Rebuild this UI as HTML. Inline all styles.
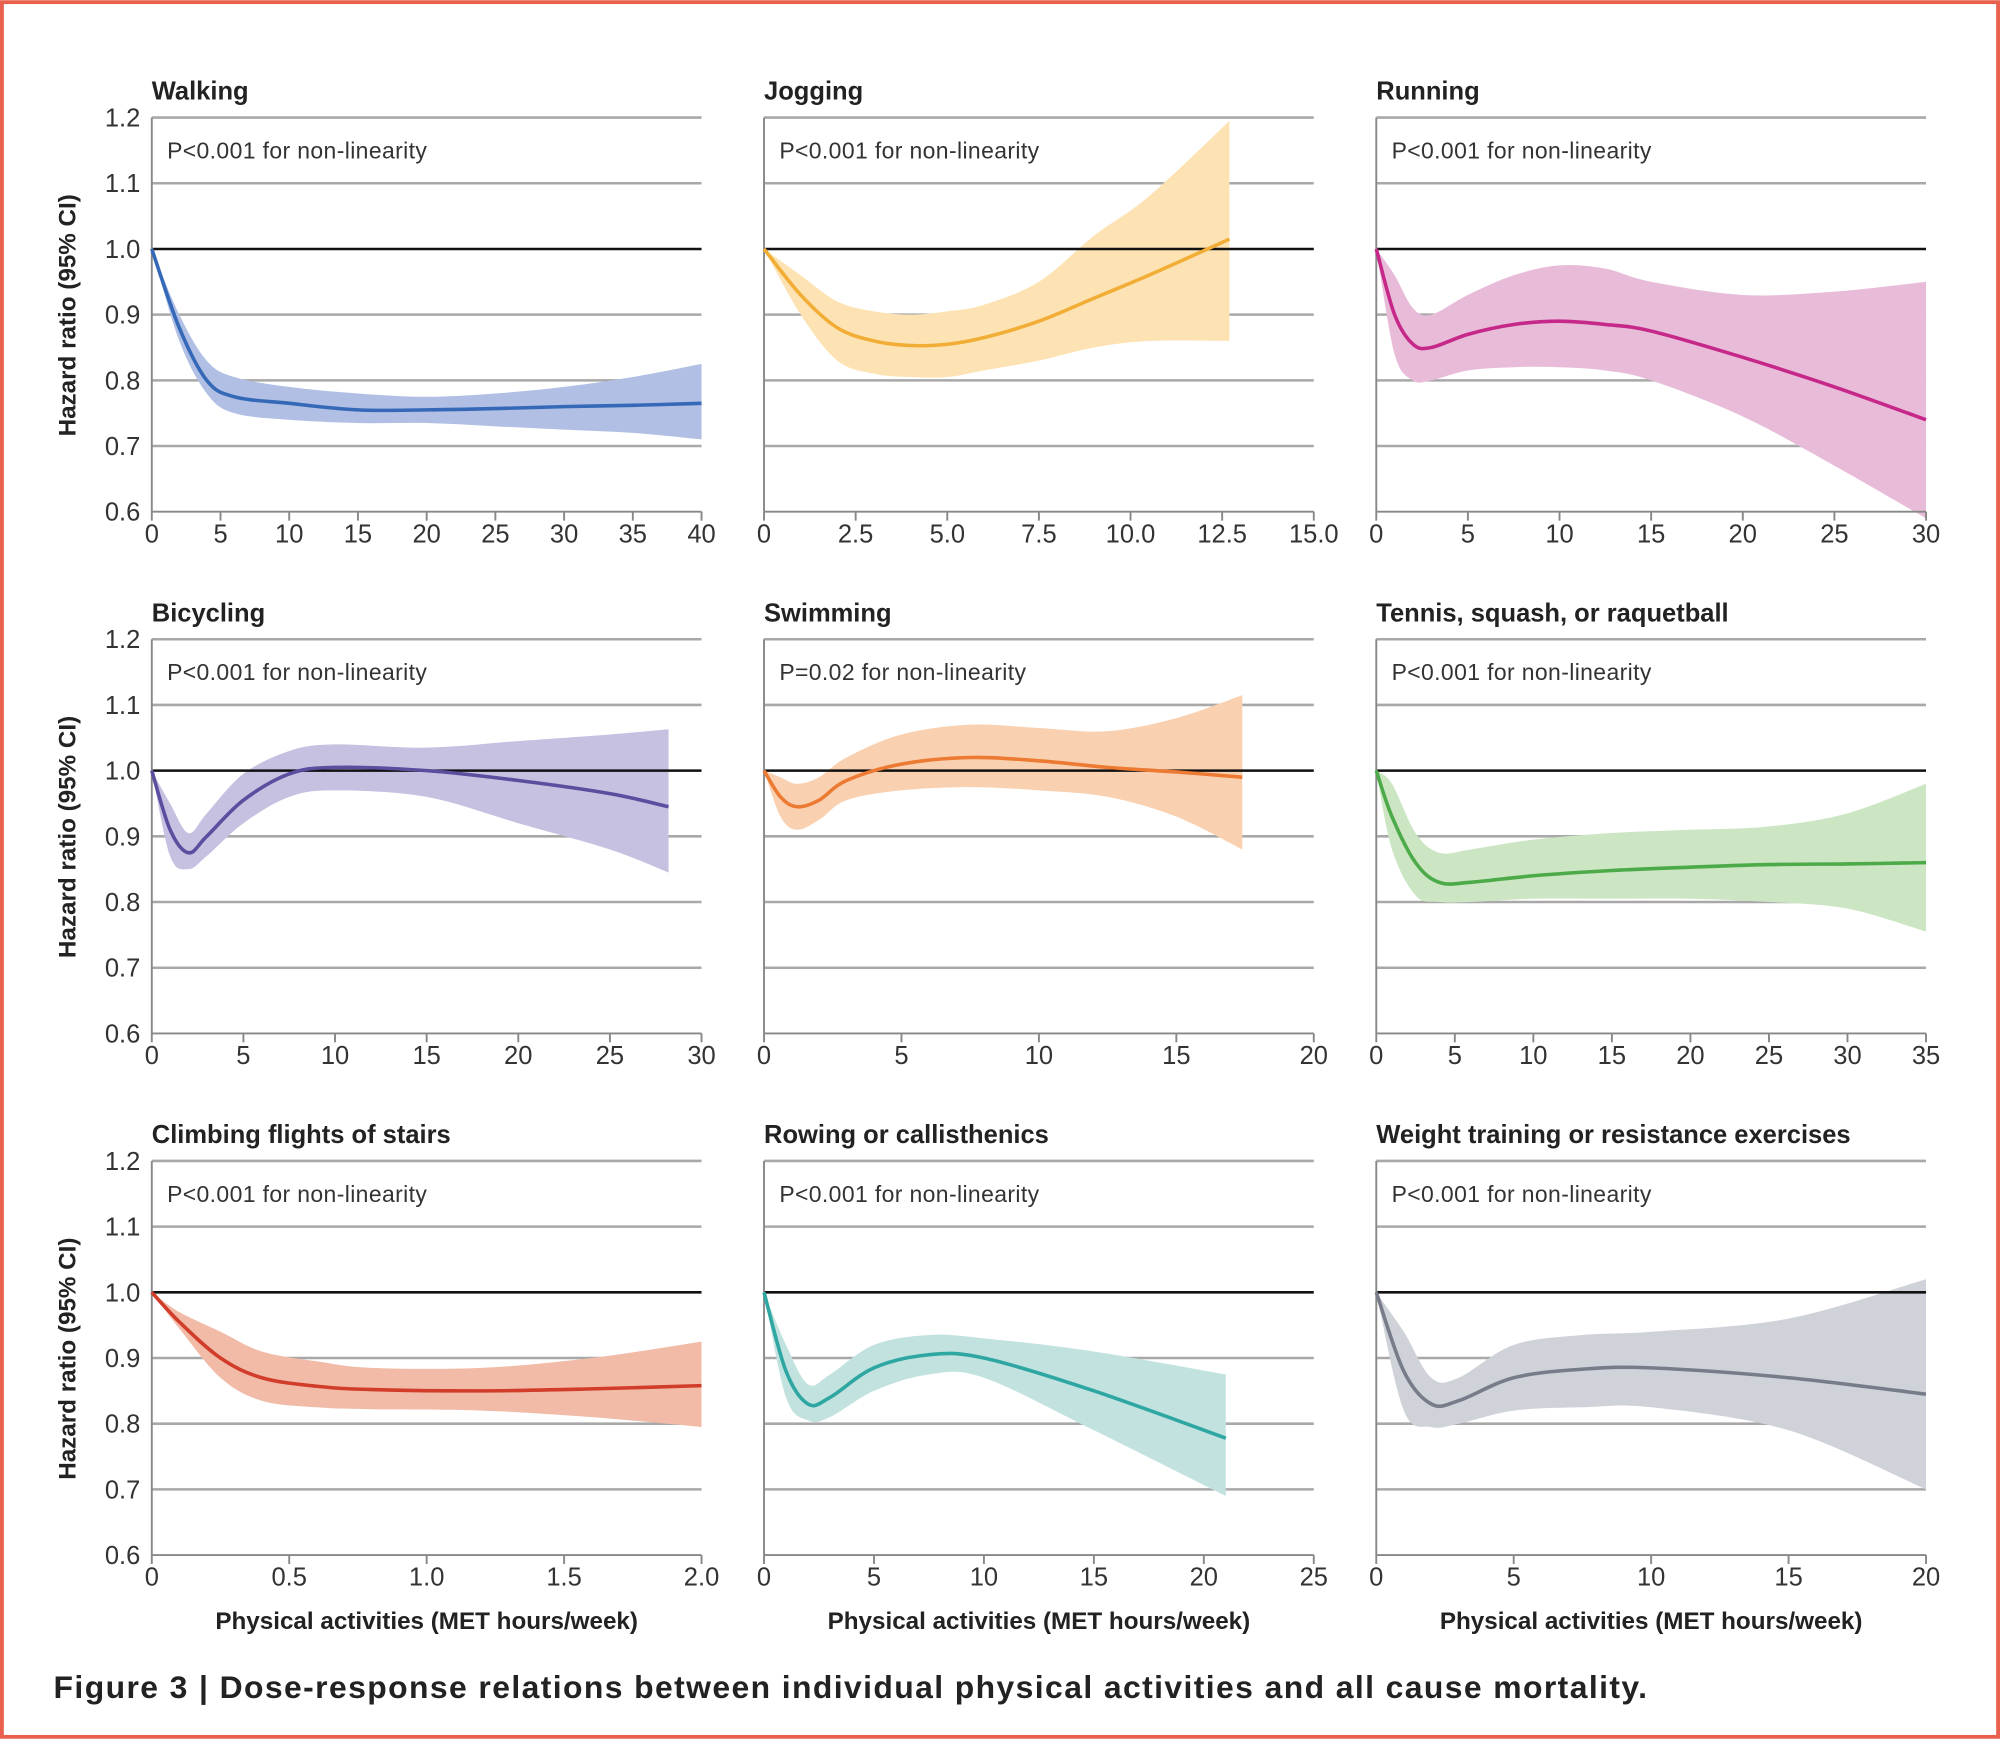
<!DOCTYPE html>
<html><head><meta charset="utf-8"><style>
html,body{margin:0;padding:0;background:#fff;}
svg{display:block;font-family:"Liberation Sans",sans-serif;}
.t{font-size:20px;font-weight:bold;fill:#222;}
.a{font-size:18px;fill:#333;letter-spacing:0.3px;}
.yl{font-size:20px;fill:#333;text-anchor:end;}
.xl{font-size:20px;fill:#333;text-anchor:middle;}
.ax{font-size:19px;font-weight:bold;fill:#222;text-anchor:middle;}
.cap{font-size:25px;fill:#222;letter-spacing:1.1px;font-weight:bold;}
</style></head><body>
<svg id="s" width="2000" height="1739" viewBox="0 0 1568 1363" xmlns="http://www.w3.org/2000/svg">
<rect x="0" y="0" width="1568" height="1363" fill="#fff"/>
<rect x="1.5" y="1.5" width="1565" height="1360" fill="none" stroke="#e9604c" stroke-width="3"/>
<g id="p0" transform="translate(119,92)"></g>
<g id="p1" transform="translate(599,92)"></g>
<g id="p2" transform="translate(1079,92)"></g>
<g id="p3" transform="translate(119,501)"></g>
<g id="p4" transform="translate(599,501)"></g>
<g id="p5" transform="translate(1079,501)"></g>
<g id="p6" transform="translate(119,910)"></g>
<g id="p7" transform="translate(599,910)"></g>
<g id="p8" transform="translate(1079,910)"></g>

<g transform="translate(119,92)">
<text class="t" x="0" y="-14">Walking</text><text class="a" x="12" y="32">P&lt;0.001 for non-linearity</text>
<text class="yl" x="-9" y="7">1.2</text><text class="yl" x="-9" y="58.5">1.1</text><text class="yl" x="-9" y="110">1.0</text><text class="yl" x="-9" y="161.5">0.9</text><text class="yl" x="-9" y="213">0.8</text><text class="yl" x="-9" y="264.5">0.7</text><text class="yl" x="-9" y="316">0.6</text>
<text class="ax" transform="translate(-60,155) rotate(-90)">Hazard ratio (95% CI)</text>
<text class="xl" x="0" y="333">0</text><text class="xl" x="53.9" y="333">5</text><text class="xl" x="107.75" y="333">10</text><text class="xl" x="161.6" y="333">15</text><text class="xl" x="215.5" y="333">20</text><text class="xl" x="269.4" y="333">25</text><text class="xl" x="323.25" y="333">30</text><text class="xl" x="377.1" y="333">35</text><text class="xl" x="431" y="333">40</text>
</g>
<g transform="translate(599,92)">
<text class="t" x="0" y="-14">Jogging</text><text class="a" x="12" y="32">P&lt;0.001 for non-linearity</text>
<text class="xl" x="0" y="333">0</text><text class="xl" x="71.8" y="333">2.5</text><text class="xl" x="143.7" y="333">5.0</text><text class="xl" x="215.5" y="333">7.5</text><text class="xl" x="287.3" y="333">10.0</text><text class="xl" x="359.2" y="333">12.5</text><text class="xl" x="431" y="333">15.0</text>
</g>
<g transform="translate(1079,92)">
<text class="t" x="0" y="-14">Running</text><text class="a" x="12" y="32">P&lt;0.001 for non-linearity</text>
<text class="xl" x="0" y="333">0</text><text class="xl" x="71.8" y="333">5</text><text class="xl" x="143.7" y="333">10</text><text class="xl" x="215.5" y="333">15</text><text class="xl" x="287.3" y="333">20</text><text class="xl" x="359.2" y="333">25</text><text class="xl" x="431" y="333">30</text>
</g>
<g transform="translate(119,501)">
<text class="t" x="0" y="-14">Bicycling</text><text class="a" x="12" y="32">P&lt;0.001 for non-linearity</text>
<text class="yl" x="-9" y="7">1.2</text><text class="yl" x="-9" y="58.5">1.1</text><text class="yl" x="-9" y="110">1.0</text><text class="yl" x="-9" y="161.5">0.9</text><text class="yl" x="-9" y="213">0.8</text><text class="yl" x="-9" y="264.5">0.7</text><text class="yl" x="-9" y="316">0.6</text>
<text class="ax" transform="translate(-60,155) rotate(-90)">Hazard ratio (95% CI)</text>
<text class="xl" x="0" y="333">0</text><text class="xl" x="71.8" y="333">5</text><text class="xl" x="143.7" y="333">10</text><text class="xl" x="215.5" y="333">15</text><text class="xl" x="287.3" y="333">20</text><text class="xl" x="359.2" y="333">25</text><text class="xl" x="431" y="333">30</text>
</g>
<g transform="translate(599,501)">
<text class="t" x="0" y="-14">Swimming</text><text class="a" x="12" y="32">P=0.02 for non-linearity</text>
<text class="xl" x="0" y="333">0</text><text class="xl" x="107.75" y="333">5</text><text class="xl" x="215.5" y="333">10</text><text class="xl" x="323.25" y="333">15</text><text class="xl" x="431" y="333">20</text>
</g>
<g transform="translate(1079,501)">
<text class="t" x="0" y="-14">Tennis, squash, or raquetball</text><text class="a" x="12" y="32">P&lt;0.001 for non-linearity</text>
<text class="xl" x="0" y="333">0</text><text class="xl" x="61.6" y="333">5</text><text class="xl" x="123.1" y="333">10</text><text class="xl" x="184.7" y="333">15</text><text class="xl" x="246.3" y="333">20</text><text class="xl" x="307.9" y="333">25</text><text class="xl" x="369.4" y="333">30</text><text class="xl" x="431" y="333">35</text>
</g>
<g transform="translate(119,910)">
<text class="t" x="0" y="-14">Climbing flights of stairs</text><text class="a" x="12" y="32">P&lt;0.001 for non-linearity</text>
<text class="yl" x="-9" y="7">1.2</text><text class="yl" x="-9" y="58.5">1.1</text><text class="yl" x="-9" y="110">1.0</text><text class="yl" x="-9" y="161.5">0.9</text><text class="yl" x="-9" y="213">0.8</text><text class="yl" x="-9" y="264.5">0.7</text><text class="yl" x="-9" y="316">0.6</text>
<text class="ax" transform="translate(-60,155) rotate(-90)">Hazard ratio (95% CI)</text>
<text class="xl" x="0" y="333">0</text><text class="xl" x="107.75" y="333">0.5</text><text class="xl" x="215.5" y="333">1.0</text><text class="xl" x="323.25" y="333">1.5</text><text class="xl" x="431" y="333">2.0</text>
<text class="ax" x="215.5" y="367">Physical activities (MET hours/week)</text>
</g>
<g transform="translate(599,910)">
<text class="t" x="0" y="-14">Rowing or callisthenics</text><text class="a" x="12" y="32">P&lt;0.001 for non-linearity</text>
<text class="xl" x="0" y="333">0</text><text class="xl" x="86.2" y="333">5</text><text class="xl" x="172.4" y="333">10</text><text class="xl" x="258.6" y="333">15</text><text class="xl" x="344.8" y="333">20</text><text class="xl" x="431" y="333">25</text>
<text class="ax" x="215.5" y="367">Physical activities (MET hours/week)</text>
</g>
<g transform="translate(1079,910)">
<text class="t" x="0" y="-14">Weight training or resistance exercises</text><text class="a" x="12" y="32">P&lt;0.001 for non-linearity</text>
<text class="xl" x="0" y="333">0</text><text class="xl" x="107.75" y="333">5</text><text class="xl" x="215.5" y="333">10</text><text class="xl" x="323.25" y="333">15</text><text class="xl" x="431" y="333">20</text>
<text class="ax" x="215.5" y="367">Physical activities (MET hours/week)</text>
</g>
<text class="cap" x="42" y="1331">Figure 3 | Dose-response relations between individual physical activities and all cause mortality.</text>
</svg>
<script>
var NS="http://www.w3.org/2000/svg";
var P=[
{xm:40,n:8,c:"#3569b8",b:"#b0bfe3",d:[[0,1,1,1],[2,.88,.86,.9],[4,.8,.78,.83],[6,.775,.75,.805],[10,.765,.74,.79],[15,.755,.735,.78],[20,.755,.735,.775],[25,.757,.73,.78],[30,.76,.725,.79],[35,.762,.72,.805],[40,.765,.71,.825]]},
{xm:15,n:6,c:"#f1ad35",b:"#fde3b4",d:[[0,1,1,1],[1,.93,.9,.96],[2,.88,.83,.92],[3,.86,.81,.905],[4,.853,.805,.9],[5,.855,.805,.905],[6,.865,.815,.915],[7.5,.89,.83,.95],[9,.925,.85,1.02],[10.5,.96,.86,1.08],[12.7,1.015,.86,1.195]]},
{xm:30,n:6,c:"#c6288a",b:"#e8bcd9",d:[[0,1,1,1],[1,.9,.84,.96],[2,.855,.8,.91],[3,.85,.8,.9],[5,.87,.815,.93],[7.5,.885,.82,.96],[10,.89,.82,.975],[12.5,.885,.815,.97],[15,.875,.8,.95],[20,.835,.745,.93],[25,.79,.67,.935],[30,.74,.59,.95]]},
{xm:30,n:6,c:"#5a4e9e",b:"#c6c0e1",d:[[0,1,1,1],[1,.91,.87,.95],[2,.875,.85,.905],[3,.9,.87,.935],[5,.955,.92,.995],[7.5,.995,.96,1.03],[10,1.005,.97,1.04],[15,1,.96,1.035],[20,.985,.92,1.045],[25,.965,.88,1.055],[28.2,.945,.845,1.063]]},
{xm:20,n:4,c:"#ec7a33",b:"#f9d1b1",d:[[0,1,1,1],[.6,.96,.93,.99],[1.2,.945,.91,.98],[2,.955,.925,.99],[3,.985,.955,1.02],[5,1.01,.97,1.055],[7.5,1.02,.975,1.07],[10,1.015,.97,1.065],[12.5,1.005,.96,1.06],[15,.998,.93,1.08],[17.4,.99,.88,1.115]]},
{xm:35,n:7,c:"#4caa48",b:"#cce5c3",d:[[0,1,1,1],[1,.93,.88,.98],[2.5,.86,.81,.905],[4,.83,.8,.875],[6,.83,.8,.88],[10,.84,.805,.895],[15,.848,.805,.905],[20,.853,.805,.91],[25,.857,.8,.915],[30,.858,.79,.935],[35,.86,.755,.98]]},
{xm:2,n:4,c:"#d13d2a",b:"#f1bba8",d:[[0,1,1,1],[.1,.955,.945,.97],[.25,.9,.87,.94],[.4,.87,.835,.91],[.6,.857,.825,.895],[.8,.852,.822,.885],[1.2,.85,.82,.885],[1.6,.853,.81,.9],[2,.858,.795,.925]]},
{xm:25,n:5,c:"#2ea6a1",b:"#c2e2df",d:[[0,1,1,1],[1,.88,.84,.92],[2,.83,.805,.86],[3,.84,.81,.875],[5,.885,.85,.92],[7.5,.905,.875,.935],[10,.9,.87,.93],[15,.85,.79,.91],[21,.778,.69,.875]]},
{xm:20,n:4,c:"#777c8b",b:"#d0d2d9",d:[[0,1,1,1],[1,.88,.82,.94],[2,.83,.795,.87],[3,.835,.8,.87],[5,.87,.82,.92],[7.5,.883,.825,.935],[10,.885,.825,.94],[15,.87,.79,.96],[20,.845,.7,1.02]]}
];
function el(g,t,a){var e=document.createElementNS(NS,t);for(var k in a)e.setAttribute(k,a[k]);g.appendChild(e);return e;}
function cr(pts,move){var s=move?"M"+pts[0][0]+","+pts[0][1]:"L"+pts[0][0]+","+pts[0][1];
for(var i=0;i<pts.length-1;i++){var p0=pts[Math.max(i-1,0)],p1=pts[i],p2=pts[i+1],p3=pts[Math.min(i+2,pts.length-1)];
s+=" C"+(p1[0]+(p2[0]-p0[0])/6)+","+(p1[1]+(p2[1]-p0[1])/6)+" "+(p2[0]-(p3[0]-p1[0])/6)+","+(p2[1]-(p3[1]-p1[1])/6)+" "+p2[0]+","+p2[1];}return s;}
P.forEach(function(p,i){var g=document.getElementById("p"+i);
var X=function(x){return x/p.xm*431},Y=function(y){return (1.2-y)*515};
[1.2,1.1,.9,.8,.7].forEach(function(v){el(g,"line",{x1:0,x2:431,y1:Y(v),y2:Y(v),stroke:"#a8a8a8","stroke-width":2});});
var up=p.d.map(function(r){return[X(r[0]),Y(r[3])]}),lo=p.d.map(function(r){return[X(r[0]),Y(r[2])]}).reverse(),md=p.d.map(function(r){return[X(r[0]),Y(r[1])]});
el(g,"path",{d:cr(up,true)+" "+cr(lo,false)+"Z",fill:p.b,stroke:"none"});
el(g,"line",{x1:0,x2:431,y1:Y(1),y2:Y(1),stroke:"#111","stroke-width":2});
el(g,"line",{x1:0,x2:0,y1:0,y2:309,stroke:"#888","stroke-width":1.5});
el(g,"line",{x1:0,x2:431,y1:309,y2:309,stroke:"#888","stroke-width":1.5});
for(var k=0;k<=p.n;k++){var x=431*k/p.n;el(g,"line",{x1:x,x2:x,y1:309,y2:316,stroke:"#888","stroke-width":1.5});}
el(g,"path",{d:cr(md,true),fill:"none",stroke:p.c,"stroke-width":2.8});
});
</script>
</body></html>
